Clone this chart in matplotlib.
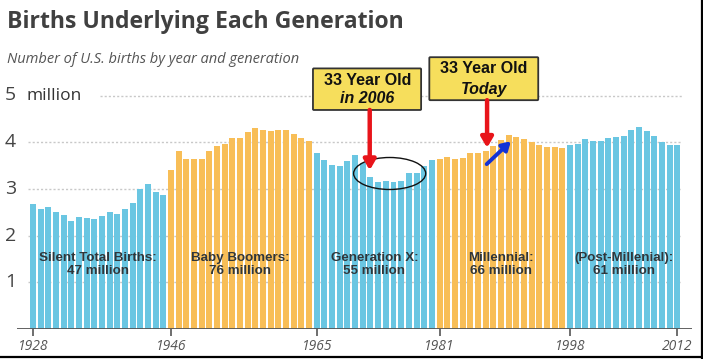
import matplotlib
matplotlib.use("Agg")
import matplotlib.pyplot as plt
from matplotlib.patches import FancyBboxPatch, Ellipse
from matplotlib.lines import Line2D
import matplotlib.transforms as mtransforms

years = list(range(1928, 2013))
births = [2.67, 2.58, 2.62, 2.51, 2.44, 2.31, 2.40, 2.38, 2.36, 2.41, 2.50, 2.47, 2.56, 2.70, 2.99, 3.10, 2.94, 2.86,
          3.41, 3.82, 3.64, 3.65, 3.63, 3.82, 3.91, 3.96, 4.08, 4.10, 4.22, 4.31, 4.26, 4.24, 4.26, 4.27, 4.17, 4.10, 4.03,
          3.76, 3.61, 3.52, 3.50, 3.60, 3.73, 3.56, 3.26, 3.14, 3.16, 3.14, 3.17, 3.33, 3.33, 3.49, 3.61,
          3.63, 3.68, 3.64, 3.67, 3.76, 3.76, 3.81, 3.91, 4.04, 4.16, 4.11, 4.07, 4.00, 3.95, 3.90, 3.89, 3.88,
          3.94, 3.96, 4.06, 4.03, 4.02, 4.09, 4.11, 4.14, 4.27, 4.32, 4.25, 4.13, 4.00, 3.95, 3.95]
gen_starts = [1928, 1946, 1965, 1981, 1998]
gen_ends = [1945, 1964, 1980, 1997, 2012]
gen_labels = ["Silent Total Births:\n47 million", "Baby Boomers:\n76 million", "Generation X:\n55 million",
              "Millennial:\n66 million", "(Post-Millenial):\n61 million"]
gen_colors = ["#6AC6E2", "#F8BE57", "#6AC6E2", "#F8BE57", "#6AC6E2"]
xtick_years = [1928, 1946, 1965, 1981, 1998, 2012]
ytick_vals = [1, 2, 3, 4, 5]
ytick_labels = ["1", "2", "3", "4", "5"]

W, H = 703, 359
fig = plt.figure(figsize=(W / 100, H / 100), dpi=100)
fig.patch.set_facecolor("white")

px_per_year = (677.3 - 33) / 84
px_per_unit = 46.7
x_left = 1928 - (33 - 17) / px_per_year
x_right = 2012 + (692 - 677.3) / px_per_year
y_top = (329 - 50) / px_per_unit
ax = fig.add_axes([17 / W, (H - 329) / H, (692 - 17) / W, (329 - 50) / H])
ax.set_xlim(x_left, x_right)
ax.set_ylim(0, y_top)
for s in ax.spines.values():
    s.set_visible(False)
ax.set_yticks([])

def color_for(y):
    for st, en, c in zip(gen_starts, gen_ends, gen_colors):
        if st <= y <= en:
            return c
    return gen_colors[-1]

bar_colors = [color_for(y) for y in years]
ax.bar(years, births, width=0.78, color=bar_colors, zorder=2, linewidth=0)

for v in ytick_vals:
    xstart = 1927.35 if v < 5 else 1936.7
    ax.plot([xstart, 2012.57], [v, v], color="#c8c8c8", lw=1.0, ls=(0, (1.5, 1.5)), zorder=1)

ax.axhline(0, color="#555555", lw=1.3, zorder=3)
ax.set_xticks(xtick_years)
ax.set_xticklabels([str(y) for y in xtick_years], fontstyle="italic", fontsize=10, color="#555555",
                   family="Open Sans")
ax.tick_params(axis="x", direction="out", length=5, width=1.2, color="#555555", pad=2)

trans = mtransforms.blended_transform_factory(fig.transFigure, ax.transData)
for v, lab in zip(ytick_vals, ytick_labels):
    ax.text(5 / W, v, lab, transform=trans, ha="left", va="center", fontsize=14, color="#444444",
            family="Open Sans", clip_on=False)
ax.text(26 / W, 5, "million", transform=trans, ha="left", va="center", fontsize=12.5, color="#333333",
        family="Open Sans", clip_on=False)

for st, en, lab in zip(gen_starts, gen_ends, gen_labels):
    ax.text((st + en) / 2, 1.38, lab, ha="center", va="center", fontsize=9.6, fontweight="bold",
            color="#30363a", family="Liberation Sans", linespacing=1.2, zorder=4)

def box(x0, y0, w, h):
    p = FancyBboxPatch((x0, y0), w, h, boxstyle="round,pad=0,rounding_size=0.12",
                       mutation_aspect=px_per_year / px_per_unit,
                       facecolor="#F6DE5C", edgecolor="#333333", lw=1.3, zorder=6, clip_on=False)
    ax.add_patch(p)

box(1964.5, 4.69, 14.1, 0.89)
box(1979.67, 4.90, 14.2, 0.92)
ax.text(1971.6, 5.32, "33 Year Old", ha="center", va="center", fontsize=11.5, fontweight="bold",
        family="Liberation Sans", color="#111111", zorder=7, clip_on=False)
ax.text(1971.6, 4.94, "in 2006", ha="center", va="center", fontsize=11.5, fontweight="bold",
        fontstyle="italic", family="Liberation Sans", color="#111111", zorder=7, clip_on=False)
ax.text(1986.8, 5.58, "33 Year Old", ha="center", va="center", fontsize=11.5, fontweight="bold",
        family="Liberation Sans", color="#111111", zorder=7, clip_on=False)
ax.text(1986.8, 5.13, "Today", ha="center", va="center", fontsize=11.5, fontweight="bold",
        fontstyle="italic", family="Liberation Sans", color="#111111", zorder=7, clip_on=False)

ax.annotate("", xy=(1971.9, 3.40), xytext=(1971.9, 4.69),
            arrowprops=dict(arrowstyle="-|>,head_width=0.35,head_length=0.6", color="#E8141A", lw=3.2,
                            shrinkA=0, shrinkB=0), zorder=8)
ax.annotate("", xy=(1987.2, 3.88), xytext=(1987.2, 4.90),
            arrowprops=dict(arrowstyle="-|>,head_width=0.35,head_length=0.6", color="#E8141A", lw=3.2,
                            shrinkA=0, shrinkB=0), zorder=8)
ax.annotate("", xy=(1990.3, 4.02), xytext=(1987.15, 3.53),
            arrowprops=dict(arrowstyle="-|>,head_width=0.3,head_length=0.5", color="#1232D6", lw=2.8,
                            shrinkA=0, shrinkB=0), zorder=8)

ax.add_patch(Ellipse((1974.5, 3.33), 9.4, 0.685, facecolor="none", edgecolor="#111111", lw=1.0, zorder=7))

fig.text(7 / W, 1 - 28 / H, "Births Underlying Each Generation", ha="left", va="baseline", fontsize=16.6,
         fontweight="bold", color="#404040", family="Open Sans")
fig.text(7 / W, 1 - 63 / H, "Number of U.S. births by year and generation", ha="left", va="baseline",
         fontsize=10.5, fontstyle="italic", color="#555555", family="Open Sans")

fig.add_artist(Line2D([701.7 / W, 701.7 / W], [0, 1], color="black", lw=1.6, transform=fig.transFigure))
fig.add_artist(Line2D([0, 1], [2.3 / H, 2.3 / H], color="black", lw=1.6, transform=fig.transFigure))

fig.savefig("out.png", dpi=100, facecolor="white")
